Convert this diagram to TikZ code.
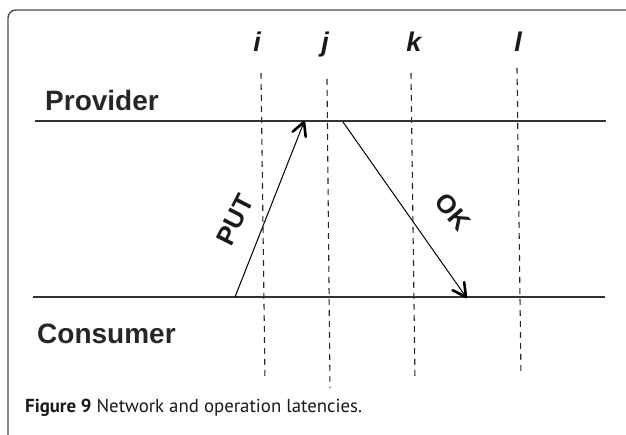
\documentclass[tikz,border=0pt]{standalone}
\usepackage{fontspec}
\setmainfont{Liberation Sans}
\newfontfamily\capfont{PT Sans}
\usetikzlibrary{calc}

\tikzset{
  party/.style={font=\bfseries\fontsize{28}{30}\selectfont, text=black!85, anchor=base west, inner sep=0pt},
  instant/.style={font=\bfseries\itshape\fontsize{27}{28}\selectfont, text=black!90, anchor=base, inner sep=0pt},
  msglabel/.style={font=\bfseries\fontsize{26}{28}\selectfont, text=black!90, inner sep=0pt},
  timeline/.style={line width=1.3pt, draw=black!80},
  cut/.style={line width=1.1pt, dash pattern=on 6pt off 5pt, draw=black!85},
  msg/.style={line width=1pt},
  barb/.style={line width=2.6pt, line cap=round, line join=round},
}

\begin{document}
\begin{tikzpicture}[x=1pt, y=-1pt]
  \useasboundingbox (0,0) rectangle (626,435);

  % open frame around the figure
  \draw[line width=1.4pt, draw=black!70] (8,435) -- (8,18) arc[start angle=180, end angle=270, radius=8] -- (626,10);

  % instants and their cut lines
  \node[instant] (li) at (257,52) {i};
  \node[instant] (lj) at (325,52) {j};
  \node[instant] (lk) at (414,52) {k};
  \node[instant] (ll) at (518,52) {l};

  \coordinate (it) at (261,73);  \coordinate (ib) at (265,380);
  \coordinate (jt) at (327,79);  \coordinate (jb) at (330,388);
  \coordinate (kt) at (411,73);  \coordinate (kb) at (415,380);
  \coordinate (lt) at (517,68);  \coordinate (lb) at (521,375);
  \draw[cut] (it) -- (ib);
  \draw[cut] (jt) -- (jb);
  \draw[cut] (kt) -- (kb);
  \draw[cut] (lt) -- (lb);

  % the two parties
  \node[party] (prov) at (45,111) {Provider};
  \node[party] (cons) at (37,343) {Consumer};

  \coordinate (p0) at (35,121);  \coordinate (p1) at (606,121);
  \coordinate (c0) at (33,297);  \coordinate (c1) at (605,297);
  \draw[timeline] (p0) -- (p1);
  \draw[timeline] (c0) -- (c1);

  % messages: thin shaft, heavy open barbs at the receiving end
  \coordinate (putS) at (235,297); \coordinate (putE) at (304,122);
  \coordinate (okS) at (343,122);  \coordinate (okE) at (466,297);
  \draw[msg] (putS) -- (putE);
  \draw[msg] (okS) -- (okE);
  \draw[barb] ($(putE)!15pt!28:(putS)$) -- (putE) -- ($(putE)!15pt!-28:(putS)$);
  \draw[barb] ($(okE)!15pt!28:(okS)$) -- (okE) -- ($(okE)!15pt!-28:(okS)$);
  \node[msglabel, rotate=63] (put) at (235,220) {PUT};
  \node[msglabel, rotate=-50] (ok) at (453,212) {OK};

  % caption
  \node[anchor=base west, inner sep=0pt, text=black!90, font=\capfont\fontsize{18.8}{20}\selectfont] (cap) at (25,412) {\textbf{Figure 9} Network and operation latencies.};
\end{tikzpicture}
\end{document}
